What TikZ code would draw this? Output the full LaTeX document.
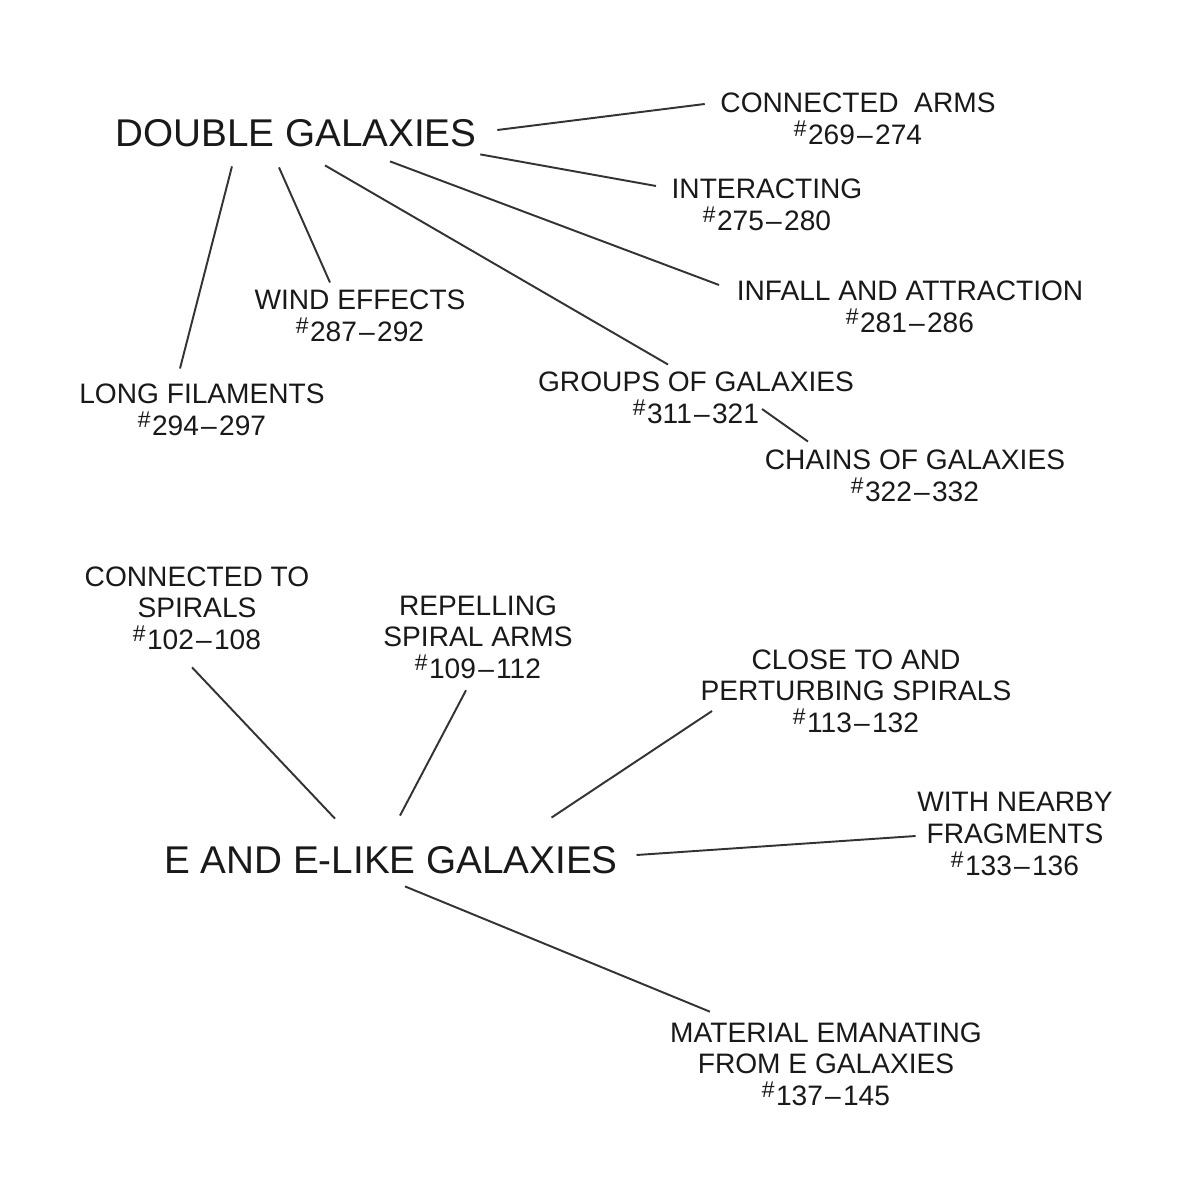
\documentclass[tikz,border=0pt]{standalone}
\usepackage{fontspec}
\setmainfont{Liberation Sans}
\newcommand\hsh{\raisebox{0.28em}{\fontsize{6.5}{6.5}\selectfont\#}\kern0.05em}
\newcommand\dsh{\kern0.08em--\kern0.08em}
\begin{document}
\begin{tikzpicture}[x=0.01cm,y=-0.01cm,
  lbl/.style={inner sep=0pt, align=center, font=\fontsize{8}{9}\selectfont, text=black!90},
  big/.style={inner sep=0pt, font=\fontsize{11}{13}\selectfont, text=black!90},
  link/.style={line width=0.55pt, draw=black!80}]
\useasboundingbox[fill=white] (0,0) rectangle (1200,1200);

% ---- Double galaxies ----
\node[big] (dg) at (296,133) {DOUBLE GALAXIES};
\node[lbl] (ca) at (858,119) {CONNECTED\ \ ARMS\\\hsh269\dsh274};
\node[lbl] (int) at (767,205) {INTERACTING\\\hsh275\dsh280};
\node[lbl] (inf) at (910,307) {INFALL AND ATTRACTION\\\hsh281\dsh286};
\node[lbl] (wind) at (360,316) {WIND EFFECTS\\\hsh287\dsh292};
\node[lbl] (long) at (202,410) {LONG FILAMENTS\\\hsh294\dsh297};
\node[lbl] (grp) at (696,398) {GROUPS OF GALAXIES\\\hsh311\dsh321};
\node[lbl] (chn) at (915,476) {CHAINS OF GALAXIES\\\hsh322\dsh332};

\draw[link] ([xshift=2mm,yshift=0.3mm]dg.east) -- ([xshift=-1.5mm,yshift=1.5mm]ca.west);
\draw[link] ([xshift=0.3mm,yshift=-0.7mm]dg.south east) -- ([xshift=-1.5mm,yshift=1.9mm]int.west);
\draw[link] ([xshift=9.4mm,yshift=-1.4mm]dg.south) -- ([xshift=-1.7mm,yshift=2.2mm]inf.west);
\draw[link] ([xshift=2.9mm,yshift=-1.8mm]dg.south) -- ([xshift=-2.8mm,yshift=0.7mm]grp.north);
\draw[link] ([xshift=-1.7mm,yshift=-2mm]dg.south) -- ([xshift=-3mm,yshift=0.7mm]wind.north);
\draw[link] ([xshift=-6.4mm,yshift=-1.9mm]dg.south) -- ([xshift=-2.2mm,yshift=1.5mm]long.north);
\draw[link] ([xshift=6.6mm,yshift=-1.1mm]grp.center) -- ([xshift=-10.7mm,yshift=0.8mm]chn.north);

% ---- E and E-like galaxies ----
\node[big] (eg) at (391,860) {E AND E-LIKE GALAXIES};
\node[lbl] (ct) at (197,608) {CONNECTED TO\\SPIRALS\\\hsh102\dsh108};
\node[lbl] (rep) at (478,637) {REPELLING\\SPIRAL ARMS\\\hsh109\dsh112};
\node[lbl] (cls) at (856,691) {CLOSE TO AND\\PERTURBING SPIRALS\\\hsh113\dsh132};
\node[lbl] (wn) at (1015,834) {WITH NEARBY\\FRAGMENTS\\\hsh133\dsh136};
\node[lbl] (mat) at (826,1064) {MATERIAL EMANATING\\FROM E GALAXIES\\\hsh137\dsh145};

\draw[link] ([xshift=-5.6mm,yshift=2.7mm]eg.north) -- ([xshift=-0.5mm,yshift=-1.7mm]ct.south);
\draw[link] ([xshift=0.9mm,yshift=3mm]eg.north) -- ([xshift=-1.2mm,yshift=-1.1mm]rep.south);
\draw[link] ([xshift=-6.7mm,yshift=2.8mm]eg.north east) -- ([xshift=1.2mm,yshift=-2mm]cls.west);
\draw[link] ([xshift=1.8mm,yshift=0.5mm]eg.east) -- ([xshift=-0.1mm,yshift=-0.2mm]wn.west);
\draw[link] ([xshift=1.4mm,yshift=-1.2mm]eg.south) -- ([xshift=-11.6mm,yshift=1mm]mat.north);
\end{tikzpicture}
\end{document}
